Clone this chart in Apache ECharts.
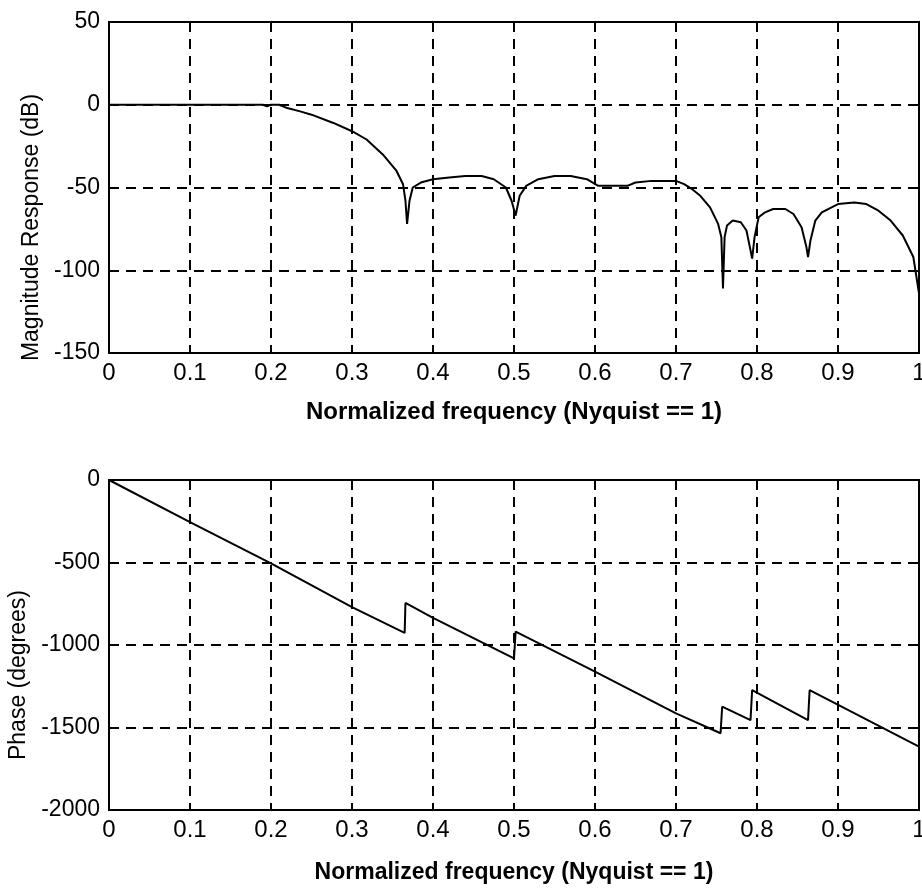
<!DOCTYPE html>
<html>
<head>
<meta charset="utf-8">
<script src="https://cdn.jsdelivr.net/npm/echarts@6/dist/echarts.min.js"></script>
<style>
html,body{margin:0;padding:0;background:#fff;}
#chart{width:922px;height:891px;}
</style>
</head>
<body>
<div id="chart"></div>
<script>
// Magnitude response (dB) vs normalized frequency
const magFreq = [0, 0.05, 0.1, 0.15, 0.19, 0.195, 0.2, 0.21, 0.22, 0.236, 0.25, 0.277, 0.3, 0.318, 0.338, 0.355, 0.363, 0.366, 0.368, 0.371, 0.375, 0.385, 0.4, 0.42, 0.44, 0.46, 0.475, 0.49, 0.497, 0.502, 0.507, 0.515, 0.53, 0.55, 0.57, 0.59, 0.604, 0.61, 0.64, 0.65, 0.67, 0.7, 0.71, 0.72, 0.73, 0.742, 0.752, 0.756, 0.758, 0.760, 0.763, 0.77, 0.78, 0.787, 0.792, 0.794, 0.797, 0.802, 0.81, 0.82, 0.835, 0.845, 0.855, 0.861, 0.863, 0.866, 0.872, 0.88, 0.9, 0.92, 0.935, 0.95, 0.965, 0.98, 0.993, 1.0];
const magDb   = [0, 0, 0, 0, 0, -1, 0, 0, -2, -4, -6, -11, -16, -21, -30, -40, -48, -58, -72, -58, -50, -47, -45, -44, -43, -43, -45, -50, -58, -67, -55, -49, -45, -43, -43, -45, -49, -49, -49, -47, -46, -46, -48, -51, -55, -62, -72, -80, -111, -80, -73, -70, -71, -76, -88, -93, -80, -68, -65, -63, -63, -66, -74, -86, -92, -82, -70, -65, -60, -59, -60, -64, -70, -79, -92, -114];

// Phase (degrees) vs normalized frequency
const phaseFreq = [0, 0.1, 0.2, 0.3, 0.365, 0.366, 0.4, 0.5, 0.502, 0.6, 0.7, 0.755, 0.757, 0.792, 0.794, 0.863, 0.865, 1.0];
const phaseDeg  = [0, -255, -505, -770, -927, -745, -836, -1081, -919, -1162, -1414, -1535, -1374, -1455, -1273, -1455, -1273, -1616];

const xTitle = 'Normalized frequency (Nyquist == 1)';
const magTitle = 'Magnitude Response (dB)';
const phaseTitle = 'Phase (degrees)';

const FONT = "'Liberation Sans', Arial, sans-serif";
const zip = (a, b) => a.map((v, i) => [v, b[i]]);

const dash = {show: true, lineStyle: {color: '#000', width: 2, type: [10, 7]}};

function xAxis(gridIndex, gap, titleSize) {
  return {
    type: 'value', gridIndex, min: 0, max: 1, interval: 0.1,
    axisLine: {show: false}, axisTick: {show: false},
    axisLabel: {color: '#000', fontSize: 24, fontFamily: FONT, margin: 8,
                formatter: v => String(Math.round(v * 10) / 10)},
    splitLine: dash,
    name: xTitle, nameLocation: 'middle', nameGap: gap,
    nameTextStyle: {color: '#000', fontSize: titleSize, fontWeight: 'bold', fontFamily: FONT}
  };
}
function yAxis(gridIndex, min, max, interval, name, gap, pad) {
  return {
    type: 'value', gridIndex, min, max, interval,
    axisLine: {show: false}, axisTick: {show: false},
    axisLabel: {color: '#000', fontSize: 23, fontFamily: FONT, margin: 9,
                formatter: v => String(v)},
    splitLine: dash,
    name, nameLocation: 'middle', nameGap: gap, nameRotate: 90,
    nameTextStyle: {color: '#000', fontSize: 23, fontFamily: FONT, padding: pad}
  };
}

const chart = echarts.init(document.getElementById('chart'), null, {renderer: 'canvas'});
chart.setOption({
  animation: false,
  backgroundColor: '#fff',
  grid: [
    {left: 109, top: 22, width: 810, height: 331, show: true, borderColor: '#000', borderWidth: 2,
     backgroundColor: 'transparent', containLabel: false, outerBoundsMode: 'none'},
    {left: 109, top: 480, width: 810, height: 330, show: true, borderColor: '#000', borderWidth: 2,
     backgroundColor: 'transparent', containLabel: false, outerBoundsMode: 'none'}
  ],
  xAxis: [xAxis(0, 47, 24), xAxis(1, 51, 23)],
  yAxis: [
    yAxis(0, -150, 50, 50, magTitle, 62, [0, 80, 0, 0]),
    yAxis(1, -2000, 0, 500, phaseTitle, 76, [0, 60, 0, 0])
  ],
  series: [
    {type: 'line', xAxisIndex: 0, yAxisIndex: 0, data: zip(magFreq, magDb), showSymbol: false,
     lineStyle: {color: '#000', width: 2}, z: 5},
    {type: 'line', xAxisIndex: 1, yAxisIndex: 1, data: zip(phaseFreq, phaseDeg), showSymbol: false,
     lineStyle: {color: '#000', width: 2}, z: 5}
  ]
});
</script>
</body>
</html>
